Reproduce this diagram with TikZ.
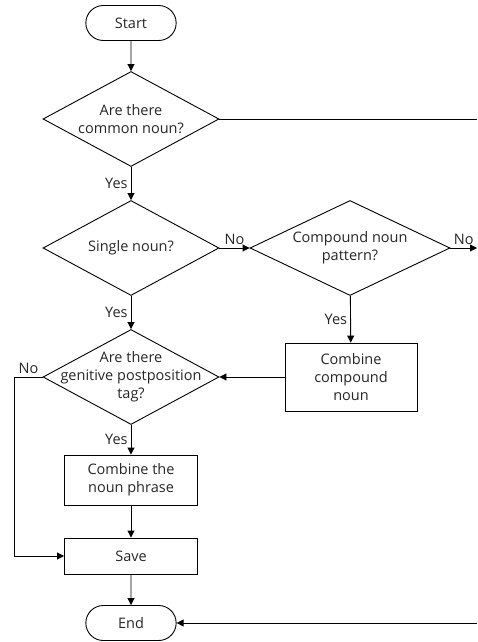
\documentclass[tikz,border=0pt]{standalone}
\usepackage{fontspec}
\setmainfont{Open Sans}
\usetikzlibrary{shapes.geometric,shapes.misc,arrows.meta}

\begin{document}
\begin{tikzpicture}[x=1pt, y=-1pt, line width=0.9pt, every node/.style={font=\fontsize{14.5}{18}\selectfont, text=black!85}]
%define

\tikzstyle{terminal} = [rounded rectangle, minimum width=97pt, minimum height=35pt, text centered, draw=black]
\tikzstyle{process} = [rectangle, minimum width=133pt, minimum height=50pt, align=center, draw=black]
\tikzstyle{decision} = [diamond, minimum width=176pt, minimum height=95pt, inner sep=0pt, draw=black]
\tikzstyle{dtext} = [align=center, inner sep=0pt]
\tikzstyle{answer} = [inner sep=3pt]
\tikzstyle{arrow} = [->, >={Triangle[length=7pt, width=7pt]}]

\useasboundingbox (0,0) rectangle (477,642);

\node[terminal](state_Start) at (131,23) {Start};
\node[decision, label={[dtext]center:Are there\\common noun?}](q_common) at (131,119) {};
\node[decision, label={[dtext]center:Single noun?}](q_single) at (131,248) {};
\node[decision, minimum width=200pt, label={[dtext]center:Compound noun\\pattern?}](q_compound) at (350,248) {};
\node[process, minimum width=132pt, minimum height=68pt](state_Compound) at (351,377) {Combine\\compound\\noun};
\node[decision, label={[dtext]center:Are there\\genitive postposition\\tag?}](q_genitive) at (131,377) {};
\node[process](state_Phrase) at (131,480) {Combine the\\noun phrase};
\node[process, minimum height=36pt](state_Save) at (131,556) {Save};
\node[terminal](state_End) at (131,623) {End};
\coordinate (edge_top) at (477,119);
\coordinate (edge_no) at (477,248);
\coordinate (edge_end) at (477,623);
%line

\draw[arrow](state_Start)--(q_common); %Start->common noun
\draw(q_common.east)--(edge_top); %common noun->No
\draw[arrow](q_common)--node[answer, left]{Yes}(q_single); %common noun->single
\draw[arrow](q_single.east)--node[answer, above]{No}(q_compound.west); %single->compound
\draw[arrow](q_compound.east)--node[answer, above]{No}(edge_no); %compound->No
\draw[arrow](q_single)--node[answer, left]{Yes}(q_genitive); %single->genitive
\draw[arrow](q_compound)--node[answer, left]{Yes}(state_Compound); %compound->combine
\draw[arrow](state_Compound.west)--(q_genitive.east); %combine->genitive
\draw[arrow](q_genitive.west)--node[answer, above]{No}++(-28,0)|-(state_Save.west); %genitive->Save
\draw[arrow](q_genitive)--node[answer, left]{Yes}(state_Phrase); %genitive->phrase
\draw[arrow](state_Phrase)--(state_Save); %phrase->Save
\draw[arrow](state_Save)--(state_End); %Save->End
\draw[arrow](edge_end)--(state_End.east); %->End

\end{tikzpicture}
\end{document}
